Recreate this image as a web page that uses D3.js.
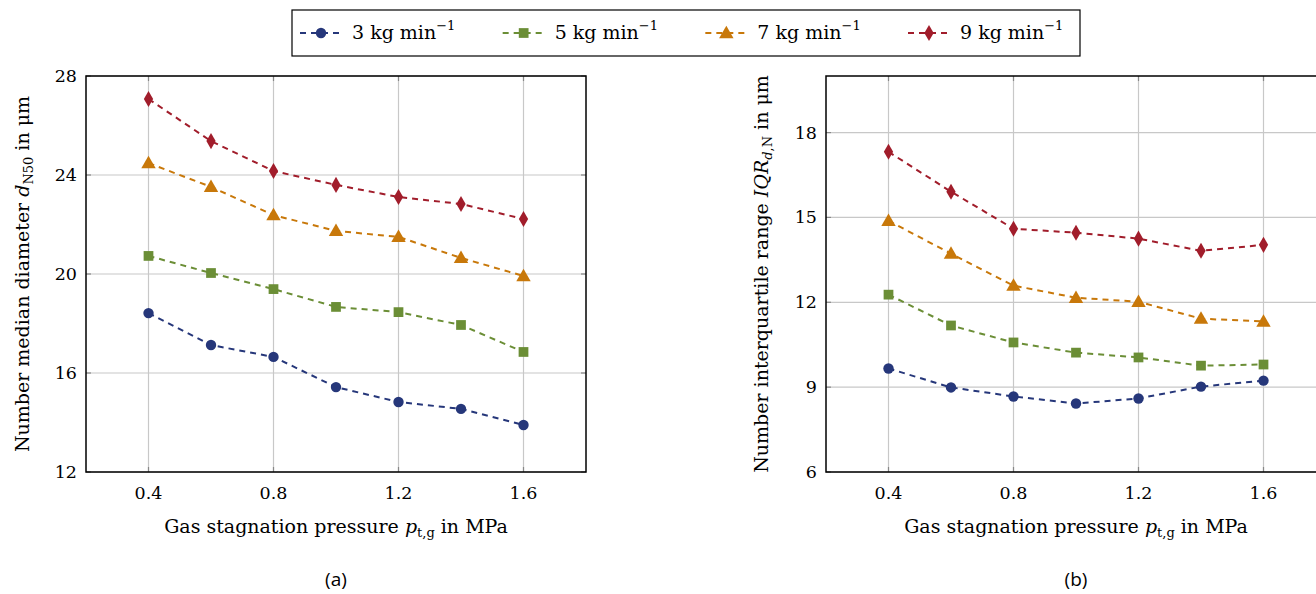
<!DOCTYPE html>
<html>
<head>
<meta charset="utf-8">
<script src="https://cdn.jsdelivr.net/npm/d3@7"></script>
<style>
  body { margin: 0; background: #fff; }
  text { font-family: "DejaVu Serif", "Liberation Serif", serif; }
</style>
</head>
<body>
<script>
const width = 1316, height = 594;

// data
const pressures = [0.4, 0.6, 0.8, 1.0, 1.2, 1.4, 1.6];
const seriesNames = ["3", "5", "7", "9"];
const seriesColors = ["#26377a", "#6b8e36", "#c8780a", "#a11d2b"];
const seriesShapes = ["circle", "square", "triangle", "diamond"];

const medianD3 = [18.42, 17.13, 16.65, 15.43, 14.83, 14.55, 13.90];
const medianD5 = [20.73, 20.04, 19.39, 18.67, 18.46, 17.94, 16.85];
const medianD7 = [24.48, 23.52, 22.38, 21.74, 21.50, 20.65, 19.92];
const medianD9 = [27.07, 25.37, 24.16, 23.60, 23.11, 22.83, 22.22];

const iqr3 = [9.66, 8.99, 8.67, 8.42, 8.60, 9.02, 9.23];
const iqr5 = [12.27, 11.18, 10.58, 10.22, 10.05, 9.76, 9.80];
const iqr7 = [14.88, 13.72, 12.59, 12.16, 12.02, 11.42, 11.32];
const iqr9 = [17.32, 15.91, 14.60, 14.46, 14.25, 13.82, 14.03];

const xTicks = [0.4, 0.8, 1.2, 1.6];
const yTicksA = [12, 16, 20, 24, 28];
const yTicksB = [6, 9, 12, 15, 18];

const svg = d3.select("body").append("svg")
  .attr("width", width)
  .attr("height", height);

function symbolFor(shape) {
  if (shape == "circle") return d3.symbol(d3.symbolCircle, 85);
  if (shape == "square") return d3.symbol(d3.symbolSquare, 95);
  if (shape == "triangle") return d3.symbol(d3.symbolTriangle, 90);
  return d3.symbol(d3.symbolDiamond, 75);
}

function drawPanel(opts) {
  const left = opts.left, top = 76, w = 500, h = 396;
  const x = d3.scaleLinear().domain([0.2, 1.8]).range([left, left + w]);
  const y = d3.scaleLinear().domain(opts.yDomain).range([top + h, top]);
  const g = svg.append("g");

  // grid
  g.append("g").selectAll("line").data(xTicks).join("line")
    .attr("x1", d => x(d)).attr("x2", d => x(d))
    .attr("y1", top).attr("y2", top + h)
    .attr("stroke", "#c8c8c8").attr("stroke-width", 1.2);
  g.append("g").selectAll("line").data(opts.yTicks).join("line")
    .attr("x1", left).attr("x2", left + w)
    .attr("y1", d => y(d)).attr("y2", d => y(d))
    .attr("stroke", "#c8c8c8").attr("stroke-width", 1.2);

  // inner tick marks
  const tk = 5;
  g.append("g").selectAll("line").data(xTicks).join("line")
    .attr("x1", d => x(d)).attr("x2", d => x(d))
    .attr("y1", top).attr("y2", top + tk)
    .attr("stroke", "#888").attr("stroke-width", 1.2);
  g.append("g").selectAll("line").data(xTicks).join("line")
    .attr("x1", d => x(d)).attr("x2", d => x(d))
    .attr("y1", top + h).attr("y2", top + h - tk)
    .attr("stroke", "#888").attr("stroke-width", 1.2);
  g.append("g").selectAll("line").data(opts.yTicks).join("line")
    .attr("x1", left).attr("x2", left + tk)
    .attr("y1", d => y(d)).attr("y2", d => y(d))
    .attr("stroke", "#888").attr("stroke-width", 1.2);
  g.append("g").selectAll("line").data(opts.yTicks).join("line")
    .attr("x1", left + w).attr("x2", left + w - tk)
    .attr("y1", d => y(d)).attr("y2", d => y(d))
    .attr("stroke", "#888").attr("stroke-width", 1.2);

  // tick labels
  g.append("g").selectAll("text").data(xTicks).join("text")
    .attr("x", d => x(d)).attr("y", top + h + 27)
    .attr("text-anchor", "middle").attr("font-size", 17.5)
    .text(d => d.toFixed(1));
  g.append("g").selectAll("text").data(opts.yTicks).join("text")
    .attr("x", left - 9).attr("y", d => y(d) + 6)
    .attr("text-anchor", "end").attr("font-size", 17.5)
    .text(d => d);

  // series
  const line = d3.line().x((d, i) => x(pressures[i])).y(d => y(d));
  opts.series.forEach((vals, k) => {
    g.append("path").datum(vals)
      .attr("d", line)
      .attr("fill", "none")
      .attr("stroke", seriesColors[k])
      .attr("stroke-width", 2)
      .attr("stroke-dasharray", "6,5");
    g.append("g").selectAll("path").data(vals).join("path")
      .attr("d", symbolFor(seriesShapes[k]))
      .attr("transform", (d, i) => `translate(${x(pressures[i])},${y(d)})` + (seriesShapes[k] == "triangle" ? " translate(0,1)" : ""))
      .attr("fill", seriesColors[k]);
  });

  // frame
  g.append("rect")
    .attr("x", left).attr("y", top).attr("width", w).attr("height", h)
    .attr("fill", "none").attr("stroke", "#000").attr("stroke-width", 1.5);

  // x label
  const xl = g.append("text")
    .attr("x", left + w / 2).attr("y", top + h + 61)
    .attr("text-anchor", "middle").attr("font-size", 19);
  xl.append("tspan").text("Gas stagnation pressure ");
  xl.append("tspan").attr("font-style", "italic").text("p");
  xl.append("tspan").attr("font-size", 13).attr("dy", 4).text("t,g");
  xl.append("tspan").attr("dy", -4).text(" in MPa");

  // y label
  const yl = g.append("text")
    .attr("transform", `translate(${left - opts.labelOffset},${top + h / 2}) rotate(-90)`)
    .attr("text-anchor", "middle").attr("font-size", 19);
  opts.yLabel(yl);

  // caption
  g.append("text")
    .attr("x", left + w / 2).attr("y", top + h + 114)
    .attr("text-anchor", "middle").attr("font-size", 19)
    .style("font-family", "'Open Sans', 'Noto Sans', sans-serif")
    .text(opts.caption);
}

drawPanel({
  left: 86, yDomain: [12, 28], yTicks: yTicksA, labelOffset: 57,
  series: [medianD3, medianD5, medianD7, medianD9],
  caption: "(a)",
  yLabel: t => {
    t.append("tspan").text("Number median diameter ");
    t.append("tspan").attr("font-style", "italic").text("d");
    t.append("tspan").attr("font-size", 13).attr("dy", 4).text("N50");
    t.append("tspan").attr("dy", -4).text(" in μm");
  }
});

drawPanel({
  left: 826, yDomain: [6, 20], yTicks: yTicksB, labelOffset: 58,
  series: [iqr3, iqr5, iqr7, iqr9],
  caption: "(b)",
  yLabel: t => {
    t.append("tspan").text("Number interquartile range ");
    t.append("tspan").attr("font-style", "italic").text("IQR");
    t.append("tspan").attr("font-size", 13).attr("dy", 4).attr("font-style", "italic").text("d");
    t.append("tspan").attr("font-size", 13).text(",N");
    t.append("tspan").attr("dy", -4).text(" in μm");
  }
});

// legend
const legend = svg.append("g");
legend.append("rect")
  .attr("x", 292).attr("y", 10).attr("width", 788).attr("height", 46)
  .attr("fill", "#fff").attr("stroke", "#000").attr("stroke-width", 1.2);
const legendX = d3.scalePoint().domain(seriesNames).range([300, 908]);
seriesNames.forEach((name, k) => {
  const lx = legendX(name);
  legend.append("line")
    .attr("x1", lx).attr("x2", lx + 42).attr("y1", 33).attr("y2", 33)
    .attr("stroke", seriesColors[k]).attr("stroke-width", 2)
    .attr("stroke-dasharray", "6,5").attr("stroke-dashoffset", 0);
  legend.append("path")
    .attr("d", symbolFor(seriesShapes[k]))
    .attr("transform", `translate(${lx + 21},${33 + (seriesShapes[k] == "triangle" ? 1 : 0)})`)
    .attr("fill", seriesColors[k]);
  const t = legend.append("text")
    .attr("x", lx + 52).attr("y", 39).attr("font-size", 19);
  t.append("tspan").text(name + " kg min");
  t.append("tspan").attr("font-size", 13).attr("dy", -9).text("−1");
});
</script>
</body>
</html>
